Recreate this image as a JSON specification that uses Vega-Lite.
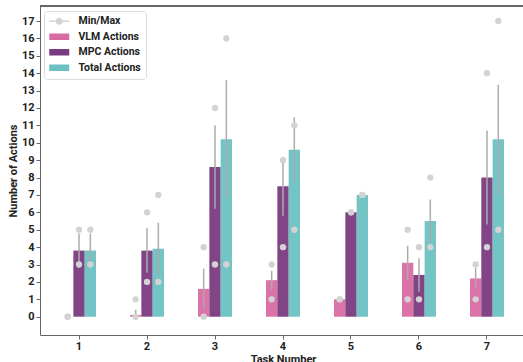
{
  "$schema": "https://vega.github.io/schema/vega-lite/v6.json",
  "autosize": "none",
  "width": 483,
  "height": 329,
  "padding": {"left": 40, "top": 6, "right": 0, "bottom": 27},
  "background": "white",
  "config": {
    "view": {"stroke": null},
    "font": "Roboto",
    "axis": {
      "labelFont": "Roboto", "labelFontWeight": "bold", "labelFontSize": 11, "labelColor": "#222",
      "titleFont": "Roboto", "titleFontWeight": "bold", "titleFontSize": 11, "titleColor": "#222",
      "domainColor": "#666", "tickColor": "#666", "tickSize": 4, "grid": false, "labelOverlap": false
    },
    "axisY": {"values": [0,1,2,3,4,5,6,7,8,9,10,11,12,13,14,15,16,17], "tickCount": 18},
    "legend": {
      "labelFont": "Roboto", "labelFontWeight": "bold", "labelFontSize": 10.5, "labelColor": "#222",
      "symbolOpacity": 1, "symbolStrokeWidth": 0, "symbolSize": 100
    }
  },
  "data": {"values": [
    {"task": 1, "series": "VLM Actions", "mean": 0, "lo": 0, "hi": 0, "min": 0, "max": 0},
    {"task": 1, "series": "MPC Actions", "mean": 3.8, "lo": 2.82, "hi": 4.78, "min": 3, "max": 5},
    {"task": 1, "series": "Total Actions", "mean": 3.8, "lo": 2.82, "hi": 4.78, "min": 3, "max": 5},
    {"task": 2, "series": "VLM Actions", "mean": 0.1, "lo": -0.2, "hi": 0.4, "min": 0, "max": 1},
    {"task": 2, "series": "MPC Actions", "mean": 3.8, "lo": 2.52, "hi": 5.08, "min": 2, "max": 6},
    {"task": 2, "series": "Total Actions", "mean": 3.9, "lo": 2.4, "hi": 5.4, "min": 2, "max": 7},
    {"task": 3, "series": "VLM Actions", "mean": 1.6, "lo": 0.44, "hi": 2.76, "min": 0, "max": 4},
    {"task": 3, "series": "MPC Actions", "mean": 8.6, "lo": 6.2, "hi": 11.0, "min": 3, "max": 12},
    {"task": 3, "series": "Total Actions", "mean": 10.2, "lo": 6.8, "hi": 13.6, "min": 3, "max": 16},
    {"task": 4, "series": "VLM Actions", "mean": 2.1, "lo": 1.56, "hi": 2.64, "min": 1, "max": 3},
    {"task": 4, "series": "MPC Actions", "mean": 7.5, "lo": 5.81, "hi": 9.19, "min": 4, "max": 9},
    {"task": 4, "series": "Total Actions", "mean": 9.6, "lo": 7.73, "hi": 11.47, "min": 5, "max": 11},
    {"task": 5, "series": "VLM Actions", "mean": 1, "lo": 1, "hi": 1, "min": 1, "max": 1},
    {"task": 5, "series": "MPC Actions", "mean": 6, "lo": 6, "hi": 6, "min": 6, "max": 6},
    {"task": 5, "series": "Total Actions", "mean": 7, "lo": 7, "hi": 7, "min": 7, "max": 7},
    {"task": 6, "series": "VLM Actions", "mean": 3.1, "lo": 2.12, "hi": 4.08, "min": 1, "max": 5},
    {"task": 6, "series": "MPC Actions", "mean": 2.4, "lo": 1.44, "hi": 3.36, "min": 1, "max": 4},
    {"task": 6, "series": "Total Actions", "mean": 5.5, "lo": 4.26, "hi": 6.74, "min": 4, "max": 8},
    {"task": 7, "series": "VLM Actions", "mean": 2.2, "lo": 1.6, "hi": 2.8, "min": 1, "max": 3},
    {"task": 7, "series": "MPC Actions", "mean": 8.0, "lo": 5.3, "hi": 10.7, "min": 4, "max": 14},
    {"task": 7, "series": "Total Actions", "mean": 10.2, "lo": 7.07, "hi": 13.33, "min": 5, "max": 17}
  ]},
  "layer": [
    {
      "mark": {"type": "bar", "opacity": 0.95},
      "encoding": {
        "x": {"field": "task", "type": "ordinal",
              "scale": {"range": [0, 486], "paddingInner": 0.5, "paddingOuter": 0.324},
              "axis": {"labelAngle": 0, "title": "Task Number", "labelPadding": 1, "titleY": 27, "titleBaseline": "alphabetic"}},
        "xOffset": {"field": "series", "type": "nominal",
                    "scale": {"domain": ["VLM Actions", "MPC Actions", "Total Actions"], "paddingInner": 0, "paddingOuter": 0}},
        "y": {"field": "mean", "type": "quantitative",
              "scale": {"domain": [-1.052, 17.863], "nice": false, "zero": false},
              "axis": {"values": [0,1,2,3,4,5,6,7,8,9,10,11,12,13,14,15,16,17], "title": "Number of Actions", "titlePadding": 3, "labelPadding": 2}},
        "color": {"field": "series", "type": "nominal",
                  "scale": {"domain": ["Min/Max", "VLM Actions", "MPC Actions", "Total Actions"],
                            "range": ["#d3d3d3", "#d96ba3", "#7a3b80", "#6bc1c2"]},
                  "legend": {"title": null, "orient": "none", "legendX": 4, "legendY": 5,
                             "strokeColor": "#dddddd", "fillColor": "white", "cornerRadius": 3, "padding": 5,
                             "labelOffset": 19, "rowPadding": 4.5}}
      }
    },
    {
      "mark": {"type": "rule", "color": "#ababab", "strokeWidth": 1.5},
      "encoding": {
        "x": {"field": "task", "type": "ordinal"},
        "xOffset": {"field": "series", "type": "nominal"},
        "y": {"field": "lo", "type": "quantitative",
              "axis": {"values": [0,1,2,3,4,5,6,7,8,9,10,11,12,13,14,15,16,17], "title": "Number of Actions", "titlePadding": 3, "labelPadding": 2}},
        "y2": {"field": "hi"}
      }
    },
    {
      "transform": [{"fold": ["min", "max"], "as": ["stat", "value"]}],
      "mark": {"type": "point", "filled": true, "color": "#d3d3d3", "opacity": 1, "size": 40},
      "encoding": {
        "x": {"field": "task", "type": "ordinal"},
        "xOffset": {"field": "series", "type": "nominal"},
        "y": {"field": "value", "type": "quantitative",
              "axis": {"values": [0,1,2,3,4,5,6,7,8,9,10,11,12,13,14,15,16,17], "title": "Number of Actions", "titlePadding": 3, "labelPadding": 2}}
      }
    },
    {
      "mark": {"type": "rule", "color": "#666", "strokeWidth": 1},
      "encoding": {"y": {"datum": 17.863,
              "axis": {"values": [0,1,2,3,4,5,6,7,8,9,10,11,12,13,14,15,16,17], "title": "Number of Actions", "titlePadding": 3, "labelPadding": 2}}}
    },
    {
      "data": {"values": [
        {"series": "Min/Max"}, {"series": "VLM Actions"}, {"series": "MPC Actions"}, {"series": "Total Actions"}
      ]},
      "mark": {"type": "point", "filled": true, "opacity": 0},
      "encoding": {
        "color": {"field": "series", "type": "nominal"},
        "shape": {"field": "series", "type": "nominal",
                  "scale": {"domain": ["Min/Max", "VLM Actions", "MPC Actions", "Total Actions"],
                            "range": ["M-1,-0.15H0.3V0.15H-1ZM1.7,-0.15H3V0.15H1.7ZM1.7,0A0.7,0.7 0 1,1 0.3,0A0.7,0.7 0 1,1 1.7,0Z",
                                      "M-1,-0.65H3V0.65H-1Z", "M-1,-0.65H3V0.65H-1Z", "M-1,-0.65H3V0.65H-1Z"]},
                  "legend": {"title": null}}
      }
    }
  ]
}
